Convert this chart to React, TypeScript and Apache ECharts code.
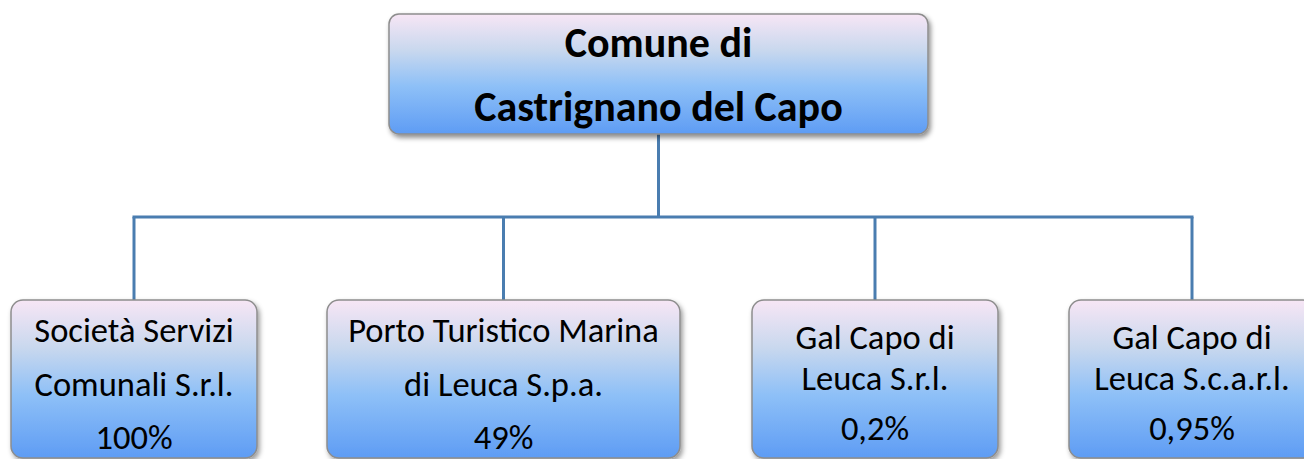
import React, { useEffect, useRef } from "react";
import * as echarts from "echarts";

const rootLines = ["Comune di", "Castrignano del Capo"];
const companyNames = [
  ["Società Servizi", "Comunali S.r.l."],
  ["Porto Turistico Marina", "di Leuca S.p.a."],
  ["Gal Capo di", "Leuca S.r.l."],
  ["Gal Capo di", "Leuca S.c.a.r.l."],
];
const shares = ["100%", "49%", "0,2%", "0,95%"];

// layout (positions only)
const ROOT = { x: 389, y: 14, w: 539, h: 120, lineY: [42, 106] };
const BOXES = [
  { x: 11, w: 246, lineY: [330, 384, 437] },
  { x: 327, w: 353, lineY: [330, 384, 437] },
  { x: 752, w: 246, lineY: [337, 378, 428] },
  { x: 1069, w: 246, lineY: [337, 378, 428] },
];
const BOX_Y = 300;
const BOX_H = 158;
const BUS_Y = 217;
const LINE_COLOR = "#4a7db0";
const FONT = "Carlito, Calibri, 'Open Sans', sans-serif";

function gradient() {
  return new echarts.graphic.LinearGradient(0, 0, 0, 1, [
    { offset: 0, color: "#f7e6f5" },
    { offset: 0.3, color: "#c9d8ee" },
    { offset: 0.6, color: "#8ec0f7" },
    { offset: 1, color: "#5e9cf4" },
  ]);
}

export default function App() {
  const ref = useRef<HTMLDivElement>(null);
  useEffect(() => {
    document.body.style.margin = "0";
    const chart = echarts.init(ref.current!, undefined, { renderer: "svg" });
    const elements: any[] = [];
    const rootCx = ROOT.x + ROOT.w / 2;
    elements.push({
      type: "line",
      shape: { x1: rootCx, y1: ROOT.y + ROOT.h, x2: rootCx, y2: BUS_Y },
      style: { stroke: LINE_COLOR, lineWidth: 3 },
    });
    const centers = BOXES.map((b) => b.x + b.w / 2);
    elements.push({
      type: "line",
      shape: { x1: centers[0] - 1.5, y1: BUS_Y, x2: centers[centers.length - 1] + 1.5, y2: BUS_Y },
      style: { stroke: LINE_COLOR, lineWidth: 3 },
    });
    centers.forEach((cx) => {
      elements.push({
        type: "line",
        shape: { x1: cx, y1: BUS_Y, x2: cx, y2: BOX_Y },
        style: { stroke: LINE_COLOR, lineWidth: 3 },
      });
    });
    elements.push({
      type: "rect",
      shape: { x: ROOT.x, y: ROOT.y, width: ROOT.w, height: ROOT.h, r: 10 },
      style: {
        fill: gradient(),
        stroke: "#8d8d8d",
        lineWidth: 1.5,
        shadowBlur: 5,
        shadowColor: "rgba(0,0,0,0.45)",
        shadowOffsetX: 2,
        shadowOffsetY: 3,
      },
    });
    rootLines.forEach((t, i) => {
      elements.push({
        type: "text",
        style: {
          text: t,
          x: rootCx,
          y: ROOT.lineY[i],
          align: "center",
          verticalAlign: "middle",
          fill: "#000",
          font: `bold 42px ${FONT}`,
        },
      });
    });
    BOXES.forEach((b, i) => {
      elements.push({
        type: "rect",
        shape: { x: b.x, y: BOX_Y, width: b.w, height: BOX_H, r: 12 },
        style: {
          fill: gradient(),
          stroke: "#8d8d8d",
          lineWidth: 1.5,
          shadowBlur: 5,
          shadowColor: "rgba(0,0,0,0.4)",
          shadowOffsetX: 2,
          shadowOffsetY: 3,
        },
      });
      const lines = [...companyNames[i], shares[i]];
      lines.forEach((t, j) => {
        elements.push({
          type: "text",
          style: {
            text: t,
            x: b.x + b.w / 2,
            y: b.lineY[j],
            align: "center",
            verticalAlign: "middle",
            fill: "#000",
            font: `34.5px ${FONT}`,
          },
        });
      });
    });
    chart.setOption({ animation: false, graphic: { elements } });
    return () => chart.dispose();
  }, []);
  return <div ref={ref} style={{ width: 1304, height: 459 }} />;
}
